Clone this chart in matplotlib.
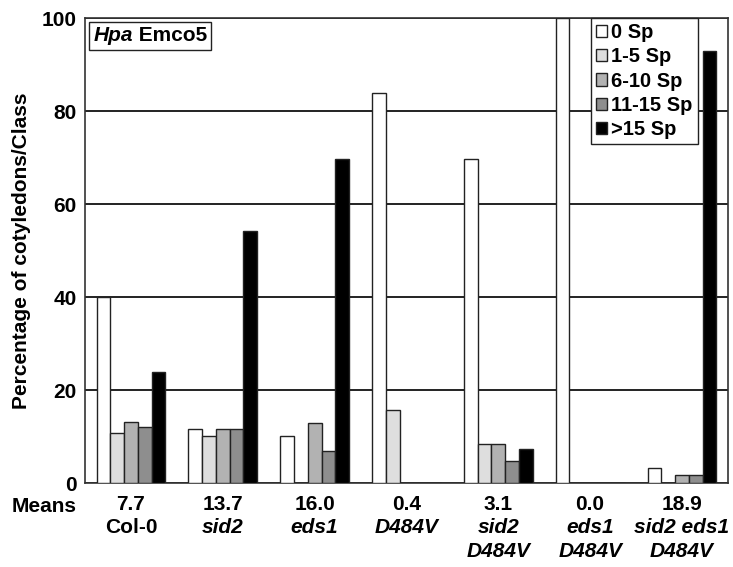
import numpy as np
import matplotlib
matplotlib.use('Agg')
import matplotlib.pyplot as plt
from matplotlib.offsetbox import TextArea, HPacker, AnchoredOffsetbox

plt.rcParams['font.family'] = ['Liberation Sans', 'DejaVu Sans']
plt.rcParams['font.weight'] = 'bold'

# data
genotypes = ['Col-0', 'sid2', 'eds1', 'D484V', 'sid2\nD484V', 'eds1\nD484V', 'sid2 eds1\nD484V']
means = ['7.7', '13.7', '16.0', '0.4', '3.1', '0.0', '18.9']
classes = ['0 Sp', '1-5 Sp', '6-10 Sp', '11-15 Sp', '>15 Sp']
sp0 = [40.0, 11.7, 10.1, 84.0, 69.8, 100.0, 3.2]
sp1_5 = [10.7, 10.1, 0.0, 15.8, 8.5, 0.0, 0.0]
sp6_10 = [13.2, 11.7, 13.0, 0.0, 8.5, 0.0, 1.7]
sp11_15 = [12.0, 11.7, 7.0, 0.0, 4.7, 0.0, 1.7]
sp15plus = [23.8, 54.3, 69.6, 0.0, 7.3, 0.0, 93.0]

series = [sp0, sp1_5, sp6_10, sp11_15, sp15plus]
colors = ['white', '#dedede', '#b2b2b2', '#8e8e8e', 'black']

fig = plt.figure(figsize=(7.33, 5.67), dpi=100)
ax = fig.add_axes([0.116, 0.148, 0.877, 0.820])

x = np.arange(len(genotypes)) + 0.5
w = 0.15
for k, (vals, c) in enumerate(zip(series, colors)):
    ax.bar(x + (k - 2) * w, vals, w, color=c, edgecolor='#222222', linewidth=1.0,
           label=classes[k], zorder=3)

ax.set_xlim(0, len(genotypes))
ax.set_ylim(0, 100)
ax.set_yticks([0, 20, 40, 60, 80, 100])
ax.set_xticks([])
ax.tick_params(axis='y', length=0, pad=6, labelsize=15)
ax.yaxis.grid(True, color='#111111', linewidth=1.3)
ax.set_axisbelow(True)
for s in ax.spines.values():
    s.set_color('#333333')
    s.set_linewidth(1.2)

ax.set_ylabel('Percentage of cotyledons/Class', fontsize=15, fontweight='bold', labelpad=8)

# x labels: means row + genotype rows
trans = ax.get_xaxis_transform()
for i, (g, m) in enumerate(zip(genotypes, means)):
    ax.text(x[i], -0.047, m, transform=trans, ha='center', va='center', fontsize=15, fontweight='bold')
    style = 'normal' if g == 'Col-0' else 'italic'
    for j, line in enumerate(g.split('\n')):
        ax.text(x[i], -0.096 - j * 0.051, line, transform=trans, ha='center', va='center',
                fontsize=15, fontweight='bold', style=style)
fig.text(44 / 733, 1 - 506 / 567, 'Means', ha='center', va='center', fontsize=15, fontweight='bold')

# title box
t1 = TextArea('Hpa', textprops=dict(fontsize=15, fontweight='bold', style='italic'))
t2 = TextArea(' Emco5', textprops=dict(fontsize=15, fontweight='bold'))
box = HPacker(children=[t1, t2], pad=0, sep=0)
anch = AnchoredOffsetbox(loc='upper left', child=box, pad=0.3, borderpad=0.3, frameon=True,
                         bbox_to_anchor=(0.0, 1.0), bbox_transform=ax.transAxes)
anch.patch.set_boxstyle('square', pad=0)
anch.patch.set_edgecolor('#222222')
anch.patch.set_linewidth(1.0)
anch.zorder = 5
ax.add_artist(anch)

leg = ax.legend(loc='upper right', bbox_to_anchor=(0.953, 1.0), borderaxespad=0, fontsize=14.5,
                handlelength=0.55, handleheight=0.55, handletextpad=0.2, labelspacing=0.26,
                borderpad=0.25, fancybox=False, framealpha=1, edgecolor='#222222')
leg.get_frame().set_linewidth(1.0)
leg.set_zorder(5)

fig.savefig('out.png', dpi=100)
